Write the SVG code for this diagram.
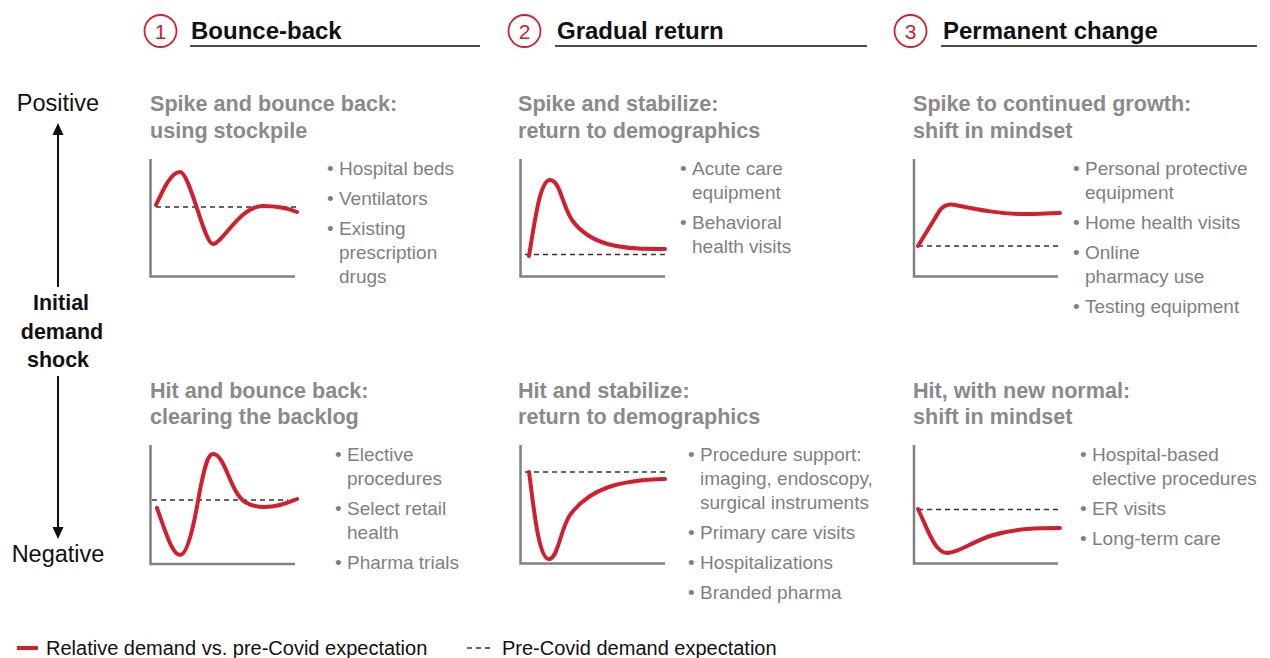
<svg xmlns="http://www.w3.org/2000/svg" width="1270" height="658" viewBox="0 0 1270 658">
<style>
text{font-family:"Liberation Sans",Arial,sans-serif}
.hd{font-size:24px;font-weight:bold;fill:#111}
.num{font-size:21px;fill:#d0202e;text-anchor:middle}
.circ{fill:none;stroke:#d0202e;stroke-width:1.8}
.ul{stroke:#111;stroke-width:1.4}
.sub{font-size:21.6px;font-weight:bold;fill:#8a8a8a}
.bl{font-size:19px;fill:#7f7f7f}
.ax{fill:none;stroke:#808080;stroke-width:2.5}
.dash{fill:none;stroke:#333;stroke-width:1.3;stroke-dasharray:5,4}
.cv{fill:none;stroke:#d0202e;stroke-width:4;stroke-linecap:round}
.lab{font-size:23.5px;fill:#111;text-anchor:middle}
.labb{font-size:21.5px;font-weight:bold;fill:#111;text-anchor:middle}
.leg{font-size:20px;fill:#111}
</style>
<defs>
<marker id="ah" markerWidth="12" markerHeight="12" refX="6" refY="6" orient="auto" markerUnits="userSpaceOnUse">
<path d="M0,0.5 L12,6 L0,11.5 z" fill="#111"/>
</marker>
</defs>

<g id="header1">
<circle class="circ" cx="160.5" cy="31" r="16"/>
<text class="num" x="160.5" y="38.5">1</text>
<text class="hd" x="191" y="39">Bounce-back</text>
<line class="ul" x1="190" y1="46" x2="480" y2="46"/>
</g>
<g id="header2">
<circle class="circ" cx="524.5" cy="31" r="16"/>
<text class="num" x="524.5" y="38.5">2</text>
<text class="hd" x="557" y="39">Gradual return</text>
<line class="ul" x1="555" y1="46" x2="867" y2="46"/>
</g>
<g id="header3">
<circle class="circ" cx="910.5" cy="31" r="16"/>
<text class="num" x="910.5" y="38.5">3</text>
<text class="hd" x="943" y="39">Permanent change</text>
<line class="ul" x1="941" y1="46" x2="1257" y2="46"/>
</g>

<g id="axis">
<text class="lab" x="58" y="111">Positive</text>
<text class="labb" x="61" y="310">Initial</text>
<text class="labb" x="62" y="339">demand</text>
<text class="labb" x="58" y="367">shock</text>
<text class="lab" x="58" y="562">Negative</text>
</g>

<g id="connectors">
<line x1="58" y1="287" x2="58" y2="129" stroke="#111" stroke-width="2" marker-end="url(#ah)"/>
<line x1="58" y1="376" x2="58" y2="533" stroke="#111" stroke-width="2" marker-end="url(#ah)"/>
</g>

<g id="panel1">
<text class="sub" x="150" y="111">Spike and bounce back:</text>
<text class="sub" x="150" y="138">using stockpile</text>
<path class="ax" d="M150.5,159 V276.5 H295"/>
<line class="dash" x1="156" y1="207" x2="296" y2="207"/>
<path class="cv" d="M156,205 C163,190 171,172 180,172 C190,172 204,244 213,244 C222,244 240,206 263,206 C278,206 290,209 297,212"/>
<text class="bl"><tspan x="327" y="175">•</tspan><tspan x="339" y="175">Hospital beds</tspan>
<tspan x="327" y="205">•</tspan><tspan x="339" y="205">Ventilators</tspan>
<tspan x="327" y="235">•</tspan><tspan x="339" y="235">Existing</tspan>
<tspan x="339" y="259">prescription</tspan>
<tspan x="339" y="283">drugs</tspan></text>
</g>

<g id="panel2">
<text class="sub" x="518" y="111">Spike and stabilize:</text>
<text class="sub" x="518" y="138">return to demographics</text>
<path class="ax" d="M520.5,159 V276.5 H665"/>
<line class="dash" x1="525" y1="254.5" x2="666" y2="254.5"/>
<path class="cv" d="M529,256 C535,220 540,180 550,180 C560,180 562,205 572,220 C590,245 620,250 665,249"/>
<text class="bl"><tspan x="680" y="175">•</tspan><tspan x="692" y="175">Acute care</tspan>
<tspan x="692" y="199">equipment</tspan>
<tspan x="680" y="229">•</tspan><tspan x="692" y="229">Behavioral</tspan>
<tspan x="692" y="253">health visits</tspan></text>
</g>

<g id="panel3">
<text class="sub" x="913" y="111">Spike to continued growth:</text>
<text class="sub" x="913" y="138">shift in mindset</text>
<path class="ax" d="M914,159 V276.5 H1058"/>
<line class="dash" x1="918" y1="246" x2="1058" y2="246"/>
<path class="cv" d="M918,246 L940,210 C945,204 950,204 955,205 C980,210 1000,214 1025,214 C1040,214 1050,213 1060,213"/>
<text class="bl"><tspan x="1073" y="175">•</tspan><tspan x="1085" y="175">Personal protective</tspan>
<tspan x="1085" y="199">equipment</tspan>
<tspan x="1073" y="229">•</tspan><tspan x="1085" y="229">Home health visits</tspan>
<tspan x="1073" y="259">•</tspan><tspan x="1085" y="259">Online</tspan>
<tspan x="1085" y="283">pharmacy use</tspan>
<tspan x="1073" y="313">•</tspan><tspan x="1085" y="313">Testing equipment</tspan></text>
</g>

<g id="panel4">
<text class="sub" x="150" y="398">Hit and bounce back:</text>
<text class="sub" x="150" y="424">clearing the backlog</text>
<path class="ax" d="M150.5,445 V564 H295"/>
<line class="dash" x1="152" y1="500" x2="288" y2="500"/>
<path class="cv" d="M157,508 C165,530 172,555 180,555 C190,555 198,500 200,490 C205,465 208,454 213,454 C225,454 230,492 245,502 C255,508 268,508 280,505 C288,503 292,501 297,499"/>
<text class="bl"><tspan x="335" y="461">•</tspan><tspan x="347" y="461">Elective</tspan>
<tspan x="347" y="485">procedures</tspan>
<tspan x="335" y="515">•</tspan><tspan x="347" y="515">Select retail</tspan>
<tspan x="347" y="539">health</tspan>
<tspan x="335" y="569">•</tspan><tspan x="347" y="569">Pharma trials</tspan></text>
</g>

<g id="panel5">
<text class="sub" x="518" y="398">Hit and stabilize:</text>
<text class="sub" x="518" y="424">return to demographics</text>
<path class="ax" d="M520.5,445 V563.5 H665"/>
<line class="dash" x1="525" y1="472" x2="666" y2="472"/>
<path class="cv" d="M529,472 C533,500 538,559 549,559 C558,559 560,530 570,515 C590,488 620,480 665,479"/>
<text class="bl"><tspan x="688" y="461">•</tspan><tspan x="700" y="461">Procedure support:</tspan>
<tspan x="700" y="485">imaging, endoscopy,</tspan>
<tspan x="700" y="509">surgical instruments</tspan>
<tspan x="688" y="539">•</tspan><tspan x="700" y="539">Primary care visits</tspan>
<tspan x="688" y="569">•</tspan><tspan x="700" y="569">Hospitalizations</tspan>
<tspan x="688" y="599">•</tspan><tspan x="700" y="599">Branded pharma</tspan></text>
</g>

<g id="panel6">
<text class="sub" x="913" y="398">Hit, with new normal:</text>
<text class="sub" x="913" y="424">shift in mindset</text>
<path class="ax" d="M914,445 V563.5 H1058"/>
<line class="dash" x1="918" y1="509.5" x2="1058" y2="509.5"/>
<path class="cv" d="M918,509 C928,530 935,553 947,553 C958,553 970,543 990,536 C1015,528 1040,528 1060,528"/>
<text class="bl"><tspan x="1080" y="461">•</tspan><tspan x="1092" y="461">Hospital-based</tspan>
<tspan x="1092" y="485">elective procedures</tspan>
<tspan x="1080" y="515">•</tspan><tspan x="1092" y="515">ER visits</tspan>
<tspan x="1080" y="545">•</tspan><tspan x="1092" y="545">Long-term care</tspan></text>
</g>

<g id="legend">
<line x1="17" y1="648" x2="38" y2="648" stroke="#d0202e" stroke-width="4"/>
<text class="leg" x="46" y="655">Relative demand vs. pre-Covid expectation</text>
<line class="dash" x1="467" y1="648" x2="494" y2="648"/>
<text class="leg" x="502" y="655">Pre-Covid demand expectation</text>
</g>
</svg>
